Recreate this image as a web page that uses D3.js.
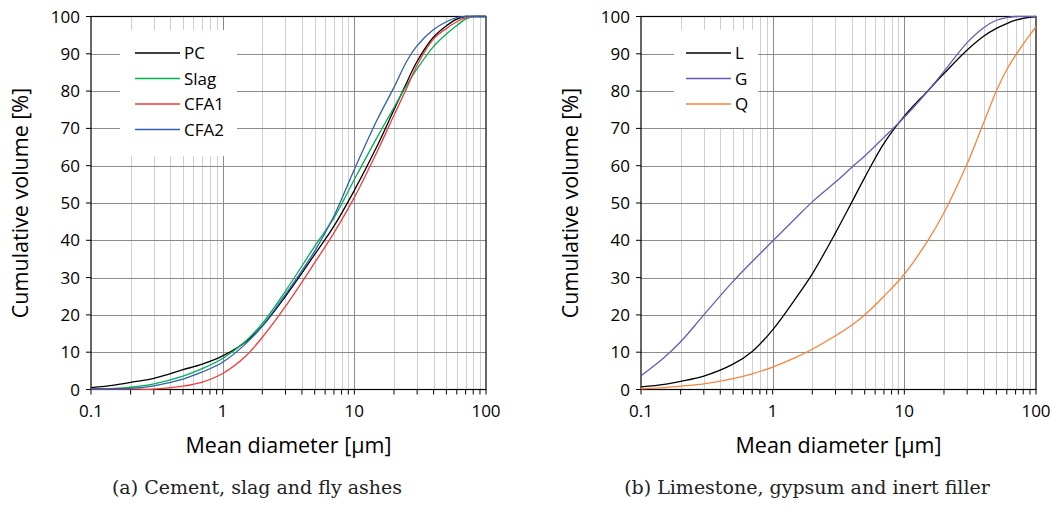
<!DOCTYPE html>
<html>
<head>
<meta charset="utf-8">
<script src="https://cdn.jsdelivr.net/npm/d3@7"></script>
<style>
  body { margin: 0; background: #fff; }
  svg text { font-family: "Open Sans", sans-serif; fill: #000; }
  svg text.caption { font-family: "DejaVu Serif", serif; fill: #222; }
</style>
</head>
<body>
<div id="d3"></div>
<script>
// ---- data ----
var diamA = [0.1, 0.15, 0.2, 0.3, 0.5, 0.7, 1, 1.5, 2, 3, 5, 7, 10, 15, 20, 25, 30, 40, 50, 60, 70, 80, 100];
var pcVals   = [0.5, 1.2, 1.9, 3.0, 5.3, 6.8, 9.0, 12.8, 17.0, 25.0, 36.2, 43.8, 53.4, 65.5, 75.0, 82.3, 88.0, 94.5, 97.5, 99.3, 100, 100, 100];
var slagVals = [0.2, 0.3, 0.6, 1.5, 3.6, 5.6, 8.3, 13.0, 17.7, 26.4, 38.4, 46.0, 56.3, 67.8, 75.6, 81.6, 86.0, 92.0, 95.3, 97.6, 99.3, 100, 100];
var cfa1Vals = [0.1, 0.1, 0.1, 0.1, 0.9, 2.0, 4.3, 9.0, 14.0, 22.3, 34.0, 42.0, 51.5, 64.0, 73.5, 80.8, 87.0, 94.0, 96.8, 98.6, 99.6, 100, 100];
var cfa2Vals = [0.2, 0.2, 0.3, 1.0, 2.8, 4.7, 7.3, 12.3, 17.0, 25.5, 37.1, 46.5, 59.0, 72.5, 81.0, 88.0, 92.2, 96.5, 98.6, 99.7, 100, 100, 100];

var diamB = [0.1, 0.15, 0.2, 0.3, 0.5, 0.7, 1, 1.5, 2, 3, 4, 5, 7, 10, 15, 20, 30, 40, 50, 60, 70, 80, 90, 100];
var lVals = [0.7, 1.4, 2.2, 3.6, 6.8, 10.2, 16.0, 24.5, 31.0, 42.0, 50.3, 56.8, 66.0, 73.3, 80.0, 84.7, 91.0, 94.7, 96.8, 98.1, 99.0, 99.5, 99.8, 100];
var gVals = [3.7, 8.6, 12.8, 20.0, 29.0, 34.3, 39.8, 46.0, 50.3, 55.6, 59.6, 62.6, 67.6, 73.0, 79.9, 85.3, 93.0, 97.0, 99.0, 99.7, 100, 100, 100, 100];
var qVals = [0.2, 0.5, 0.9, 1.5, 2.9, 4.2, 6.0, 8.6, 10.8, 14.4, 17.3, 20.0, 25.0, 30.9, 39.8, 47.4, 60.5, 71.5, 80.0, 85.8, 89.6, 92.6, 95.1, 97.3];

var namesA = ["PC", "Slag", "CFA1", "CFA2"];
var namesB = ["L", "G", "Q"];
var yTicks = [0, 10, 20, 30, 40, 50, 60, 70, 80, 90, 100];
var xTickLabels = ["0.1", "1", "10", "100"];
var captionA = "(a) Cement, slag and fly ashes";
var captionB = "(b) Limestone, gypsum and inert filler";

var W = 1058, H = 507;

var svg = d3.select("#d3")
  .append("svg")
  .attr("width", W)
  .attr("height", H);

// every gridline position in the 0.1..100 range
var allDiam = [];
[0.1, 1, 10].forEach(function(dec) {
  for (var k = 1; k <= 9; k++) allDiam.push(+(dec * k).toPrecision(3));
});
allDiam.push(100);

function drawPanel(opt) {
  var x = d3.scaleLog().domain([0.1, 100]).range([opt.left, opt.right]);
  var y = d3.scaleLinear().domain([0, 100]).range([389.5, 16.5]);

  var g = svg.append("g");

  // vertical grid
  g.selectAll(".vgrid")
    .data(allDiam.filter(function(d) { return d > 0.1 && d < 100; }))
    .enter().append("line")
      .attr("x1", function(d) { return Math.round(x(d)) + 0.5; })
      .attr("x2", function(d) { return Math.round(x(d)) + 0.5; })
      .attr("y1", y(100)).attr("y2", y(0))
      .attr("stroke", function(d) { return (d === 1 || d === 10) ? "#8c8c8c" : "#cfcfcf"; })
      .attr("stroke-width", 1);

  // horizontal grid
  g.selectAll(".hgrid")
    .data(yTicks.filter(function(d) { return d > 0 && d < 100; }))
    .enter().append("line")
      .attr("x1", opt.left).attr("x2", opt.right)
      .attr("y1", function(d) { return Math.round(y(d)) + 0.5; })
      .attr("y2", function(d) { return Math.round(y(d)) + 0.5; })
      .attr("stroke", "#8c8c8c")
      .attr("stroke-width", 1);

  // legend box sits over the grid
  g.append("rect")
    .attr("x", opt.leg.x).attr("y", opt.leg.y)
    .attr("width", opt.leg.w).attr("height", opt.leg.h)
    .attr("fill", "#fff");

  // frame
  g.append("rect")
    .attr("x", opt.left).attr("y", y(100))
    .attr("width", opt.right - opt.left).attr("height", y(0) - y(100))
    .attr("fill", "none").attr("stroke", "#000").attr("stroke-width", 1.2);

  // y ticks and labels
  g.selectAll(".ytick")
    .data(yTicks)
    .enter().append("line")
      .attr("x1", opt.left - 5).attr("x2", opt.left)
      .attr("y1", function(d) { return y(d); }).attr("y2", function(d) { return y(d); })
      .attr("stroke", "#000");
  g.selectAll(".ylab")
    .data(yTicks)
    .enter().append("text")
      .attr("x", opt.left - 11)
      .attr("y", function(d) { return y(d) + 6; })
      .attr("text-anchor", "end")
      .style("font-size", "17px")
      .text(function(d) { return d; });

  // x ticks and labels
  g.selectAll(".xtick")
    .data(allDiam)
    .enter().append("line")
      .attr("x1", function(d) { return x(d); }).attr("x2", function(d) { return x(d); })
      .attr("y1", y(0)).attr("y2", y(0) + 5)
      .attr("stroke", "#000");
  g.selectAll(".xlab")
    .data(xTickLabels)
    .enter().append("text")
      .attr("x", function(d) { return x(+d); })
      .attr("y", 417)
      .attr("text-anchor", "middle")
      .style("font-size", "17px")
      .text(function(d) { return d; });

  // axis titles
  g.append("text")
    .attr("x", (opt.left + opt.right) / 2)
    .attr("y", 453)
    .attr("text-anchor", "middle")
    .style("font-size", "21.5px")
    .text("Mean diameter [\u03bcm]");
  g.append("text")
    .attr("transform", "translate(" + (opt.left - 63) + "," + ((y(0) + y(100)) / 2) + ") rotate(-90)")
    .attr("text-anchor", "middle")
    .style("font-size", "21.5px")
    .text("Cumulative volume [%]");

  // lines
  var line = d3.line()
    .x(function(d) { return x(d[0]); })
    .y(function(d) { return y(d[1]); })
    .curve(d3.curveCatmullRom);

  opt.series.forEach(function(s) {
    g.append("path")
      .datum(d3.zip(opt.diam, s.vals))
      .attr("fill", "none")
      .attr("stroke", s.color)
      .attr("stroke-width", 1.3)
      .attr("d", line);
  });

  // legend entries
  opt.series.forEach(function(s, i) {
    var ly = opt.leg.y + 23 + i * 25.5;
    g.append("line")
      .attr("x1", opt.leg.x + opt.leg.lx).attr("x2", opt.leg.x + opt.leg.lx + 45)
      .attr("y1", ly).attr("y2", ly)
      .attr("stroke", s.color).attr("stroke-width", 1.3);
    g.append("text")
      .attr("x", opt.leg.x + opt.leg.lx + 49)
      .attr("y", ly + 6)
      .style("font-size", "17px")
      .text(s.name);
  });

  // caption
  g.append("text")
    .attr("class", "caption")
    .attr("x", opt.capX)
    .attr("y", 494)
    .attr("text-anchor", "middle")
    .style("font-size", "19px")
    .text(opt.caption);
}

drawPanel({
  left: 91, right: 486, diam: diamA,
  series: [
    {name: namesA[0], vals: pcVals, color: "#000000"},
    {name: namesA[1], vals: slagVals, color: "#00b050"},
    {name: namesA[2], vals: cfa1Vals, color: "#f03c3c"},
    {name: namesA[3], vals: cfa2Vals, color: "#2f5fb3"}
  ],
  leg: {x: 120, y: 30, w: 117, h: 126, lx: 15},
  caption: captionA, capX: 257
});

drawPanel({
  left: 641, right: 1036, diam: diamB,
  series: [
    {name: namesB[0], vals: lVals, color: "#000000"},
    {name: namesB[1], vals: gVals, color: "#6a5ab4"},
    {name: namesB[2], vals: qVals, color: "#f7853a"}
  ],
  leg: {x: 674, y: 30, w: 84, h: 98, lx: 12},
  caption: captionB, capX: 807
});
</script>
</body>
</html>
